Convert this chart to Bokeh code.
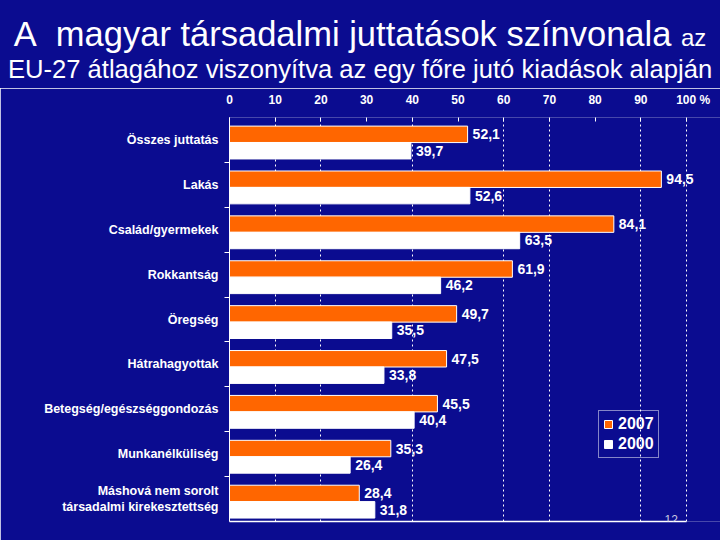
from bokeh.plotting import figure
from bokeh.layouts import column
from bokeh.models import (ColumnDataSource, LabelSet, Label, Legend, LegendItem,
                          FixedTicker, Range1d, LinearAxis, Div)
from bokeh.core.properties import value
from bokeh.embed import file_html
from bokeh.resources import INLINE

# ---------------- data ----------------
title_main = "A  magyar társadalmi juttatások színvonala"
title_tail = "az"
subtitle = "EU-27 átlagához viszonyítva az egy főre jutó kiadások alapján"
categories = ["Összes juttatás", "Lakás", "Család/gyermekek", "Rokkantság", "Öregség",
              "Hátrahagyottak", "Betegség/egészséggondozás", "Munkanélküliség",
              "Máshová nem sorolt\ntársadalmi kirekesztettség"]
values_2007 = [52.1, 94.5, 84.1, 61.9, 49.7, 47.5, 45.5, 35.3, 28.4]
values_2000 = [39.7, 52.6, 63.5, 46.2, 35.5, 33.8, 40.4, 26.4, 31.8]
series_names = ["2007", "2000"]
x_ticks = [0, 10, 20, 30, 40, 50, 60, 70, 80, 90, 100]
grid_ticks = [10, 20, 40, 60, 70, 90, 100]
unit_label = "%"
page_number = "12"

# ---------------- style ----------------
BG = "#0b0c90"
ORANGE = "#FF6600"
FONT = "Liberation Sans"
NB = "\u00a0"

n = len(categories)
centers = [n - i - 0.5 for i in range(n)]
bar_h = 0.367
src = ColumnDataSource(dict(
    cat=categories,
    y07=[c + 0.125 for c in centers],
    y00=[c - 0.24 for c in centers],
    v07=values_2007,
    v00=values_2000,
    t07=[f"{v:.1f}".replace(".", ",") for v in values_2007],
    t00=[f"{v:.1f}".replace(".", ",") for v in values_2000],
))

# title block
title_html = (
    f'<div style="width:720px;text-align:center;color:white;font-family:\'{FONT}\';'
    f'white-space:nowrap;">'
    f'<div style="font-size:34.5px;line-height:37px;padding-top:16px;">'
    f'{title_main.replace("  ", "&nbsp; ")}&nbsp;'
    f'<span style="font-size:24px;line-height:1;">{title_tail}</span></div>'
    f'<div style="font-size:25.6px;line-height:32px;">{subtitle}</div></div>'
)
div = Div(text=title_html, width=720, height=88,
          styles={"margin": "0", "padding": "0", "background-color": BG})

x_end = 100 * 491 / 457
p = figure(width=720, height=452, x_range=Range1d(0, x_end), y_range=Range1d(0, n),
           x_axis_location="above", output_backend="svg", toolbar_location=None,
           min_border_left=229, min_border_right=0, min_border_top=29,
           min_border_bottom=19)
p.background_fill_color = BG
p.border_fill_color = BG
p.outline_line_color = None

# top axis
xa = p.xaxis[0]
xa.ticker = FixedTicker(ticks=x_ticks)
xa.major_label_overrides = {100: NB * 4 + "100" + NB + unit_label}
xa.axis_line_color = None
xa.major_tick_in = 4
xa.major_tick_out = 0
xa.major_tick_line_color = "white"
xa.minor_tick_line_color = None
xa.major_label_standoff = 11
xa.major_label_text_color = "white"
xa.major_label_text_font = FONT
xa.major_label_text_font_style = "bold"
xa.major_label_text_font_size = "12px"

# bottom axis line (0..100 only)
xb = LinearAxis(bounds=(0, 100), ticker=FixedTicker(ticks=[]),
                axis_line_color="white", axis_line_width=1.5,
                major_tick_line_color=None, minor_tick_line_color=None,
                major_label_text_font_size="0px")
p.add_layout(xb, "below")

# left axis
ya = p.yaxis[0]
ya.ticker = FixedTicker(ticks=centers, minor_ticks=list(range(1, n)))
ya.major_label_overrides = {c: name for c, name in zip(centers, categories)}
ya.major_tick_line_color = None
ya.major_tick_in = 0
ya.major_tick_out = 0
ya.minor_tick_in = 0
ya.minor_tick_out = 5
ya.minor_tick_line_color = "white"
ya.axis_line_color = "white"
ya.major_label_standoff = 6
ya.major_label_text_color = "white"
ya.major_label_text_font = FONT
ya.major_label_text_font_style = "bold"
ya.major_label_text_font_size = "12.5px"

# grid
p.ygrid.visible = False
p.xgrid.ticker = FixedTicker(ticks=grid_ticks)
p.xgrid.grid_line_color = "white"
p.xgrid.grid_line_dash = "2 3"
p.xgrid.grid_line_width = 1

r07 = p.hbar(y="y07", left=0, right="v07", height=bar_h, fill_color=ORANGE,
             line_color="white", line_width=1, source=src)
r00 = p.hbar(y="y00", left=0, right="v00", height=bar_h, fill_color="white",
             line_color="white", line_width=1, source=src)

for xcol, ycol, tcol in [("v07", "y07", "t07"), ("v00", "y00", "t00")]:
    p.add_layout(LabelSet(x=xcol, y=ycol, text=tcol, source=src, x_offset=5,
                          text_baseline="middle", text_color="white",
                          text_font=value(FONT), text_font_style="bold",
                          text_font_size="14px"))

legend = Legend(items=[LegendItem(label=series_names[0], renderers=[r07]),
                       LegendItem(label=series_names[1], renderers=[r00])],
                location=(369, 63), orientation="vertical",
                glyph_width=10, glyph_height=10, label_standoff=5,
                label_height=14, padding=4, spacing=2, margin=0,
                label_text_font=FONT, label_text_font_size="16px",
                label_text_font_style="bold", label_text_color="white",
                border_line_color="white", border_line_width=1,
                background_fill_alpha=0)
p.add_layout(legend)

p.add_layout(Label(x=435, y=2, x_units="screen", y_units="screen", text=page_number,
                   text_font=FONT, text_font_size="12px", text_color="#c8c8e0",
                   text_baseline="alphabetic", text_align="left"))

layout = column(div, p, spacing=0)
html = file_html(layout, INLINE)
html = html.replace("<body>", f'<body style="margin:0;background-color:{BG};">', 1)
open("out.html", "w").write(html)
